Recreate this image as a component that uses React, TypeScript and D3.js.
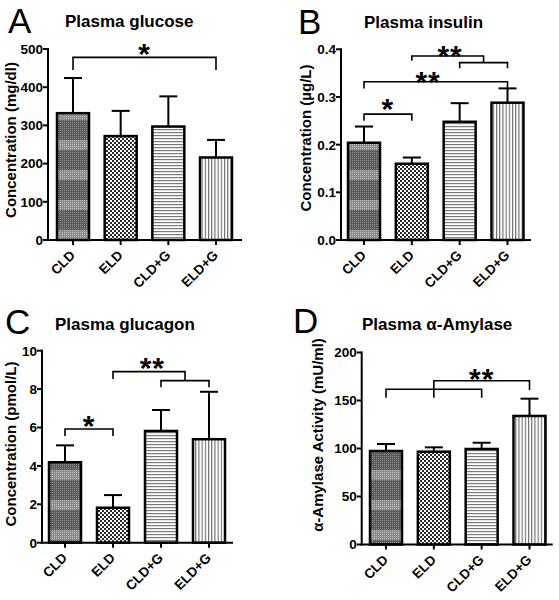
import React from "react";
import * as d3 from "d3";

const categories = ["CLD", "ELD", "CLD+G", "ELD+G"];

const glucoseMean = [332, 272, 297, 216];
const glucoseErr = [92, 66, 79, 46];
const glucoseTicks = [0, 100, 200, 300, 400, 500];

const insulinMean = [0.204, 0.16, 0.248, 0.288];
const insulinErr = [0.034, 0.013, 0.039, 0.03];
const insulinTicks = [0, 0.1, 0.2, 0.3, 0.4];

const glucagonMean = [4.19, 1.82, 5.82, 5.39];
const glucagonErr = [0.88, 0.66, 1.09, 2.47];
const glucagonTicks = [0, 2, 4, 6, 8, 10];

const amylaseMean = [97.4, 96.7, 99.5, 133.9];
const amylaseErr = [7.3, 4.5, 6.5, 18.0];
const amylaseTicks = [0, 50, 100, 150, 200];

// significance brackets: polylines in (category index, value)
const glucoseBrackets = [[[0, 445], [0, 478], [3, 478], [3, 445]]];
const glucoseStars = [{ i: 1.5, v: 505, t: "*" }];

const insulinBrackets = [
  [[0, 0.25], [0, 0.264], [1, 0.264], [1, 0.25]],
  [[0, 0.318], [0, 0.332], [3, 0.332], [3, 0.318]],
  [[2, 0.36], [2, 0.372], [3, 0.372], [3, 0.36]],
  [[1, 0.376], [1, 0.386], [2.5, 0.386], [2.5, 0.372]],
];
const insulinStars = [
  { i: 0.5, v: 0.289, t: "*" },
  { i: 1.34, v: 0.346, t: "**" },
  { i: 1.8, v: 0.4, t: "**" },
];

const glucagonBrackets = [
  [[0, 5.56], [0, 5.92], [1, 5.92], [1, 5.56]],
  [[1, 8.53], [1, 8.91], [2.5, 8.91], [2.5, 8.44]],
  [[2, 8.09], [2, 8.44], [3, 8.44], [3, 8.09]],
];
const glucagonStars = [
  { i: 0.5, v: 6.43, t: "*" },
  { i: 1.82, v: 9.45, t: "**" },
];

const amylaseBrackets = [
  [[0, 152.9], [0, 161.7], [2, 161.7], [2, 152.9]],
  [[1, 152.9], [1, 170.6], [3, 170.6], [3, 160.9]],
];
const amylaseStars = [{ i: 2, v: 180, t: "**" }];

const FONT = "'Liberation Sans', Arial, Helvetica, sans-serif";
const patterns = ["pCLD", "pELD", "pCLDG", "pELDG"];

type Cfg = {
  letter: string;
  letterX: number;
  letterY: number;
  title: string;
  titleX: number;
  titleY: number;
  ylabel: string;
  ylabelX: number;
  ylabelY: number;
  axisX: number;
  axisRight: number;
  y0: number;
  yTop: number;
  c0: number;
  c3: number;
  mean: number[];
  err: number[];
  ticks: number[];
  fmt: (v: number) => string;
  brackets: number[][][];
  stars: { i: number; v: number; t: string }[];
};

function Panel({ cfg }: { cfg: Cfg }) {
  const yMax = cfg.ticks[cfg.ticks.length - 1];
  const y = d3.scaleLinear().domain([0, yMax]).range([cfg.y0, cfg.yTop]);
  const x = d3.scalePoint<string>().domain(categories).range([cfg.c0, cfg.c3]);
  const step = x.step();
  const xi = (i: number) => cfg.c0 + i * step;
  const barW = 32;
  const capW = 18;
  const line = d3
    .line<number[]>()
    .x((d) => xi(d[0]))
    .y((d) => y(d[1]));
  return (
    <g>
      <text x={cfg.letterX} y={cfg.letterY} fontSize={35} fontFamily={FONT}>
        {cfg.letter}
      </text>
      <text x={cfg.titleX} y={cfg.titleY} fontSize={17} fontWeight="bold" fontFamily={FONT}>
        {cfg.title}
      </text>
      <text
        transform={`translate(${cfg.ylabelX},${cfg.ylabelY}) rotate(-90)`}
        textAnchor="middle"
        dy="0.35em"
        fontSize={15}
        fontWeight="bold"
        fontFamily={FONT}
      >
        {cfg.ylabel}
      </text>
      {/* bars */}
      {categories.map((c, i) => {
        const cx = x(c)!;
        const top = y(cfg.mean[i]);
        const et = y(cfg.mean[i] + cfg.err[i]);
        return (
          <g key={c}>
            <line x1={cx} x2={cx} y1={top} y2={et} stroke="#000" strokeWidth={2} />
            <line x1={cx - capW / 2} x2={cx + capW / 2} y1={et} y2={et} stroke="#000" strokeWidth={2} />
            <rect
              x={cx - barW / 2}
              y={top}
              width={barW}
              height={cfg.y0 - top}
              fill={`url(#${patterns[i]})`}
              stroke="#000"
              strokeWidth={2.5}
            />
          </g>
        );
      })}
      {/* axes */}
      <line x1={cfg.axisX} x2={cfg.axisX} y1={cfg.yTop - 1} y2={cfg.y0 + 1} stroke="#000" strokeWidth={2} />
      <line x1={cfg.axisX - 1} x2={cfg.axisRight} y1={cfg.y0} y2={cfg.y0} stroke="#000" strokeWidth={2} />
      {cfg.ticks.map((t) => (
        <g key={t}>
          <line x1={cfg.axisX - 5} x2={cfg.axisX} y1={y(t)} y2={y(t)} stroke="#000" strokeWidth={2} />
          <text
            x={cfg.axisX - 5}
            y={y(t)}
            dy="0.36em"
            textAnchor="end"
            fontSize={13.5}
            fontWeight="bold"
            fontFamily={FONT}
          >
            {cfg.fmt(t)}
          </text>
        </g>
      ))}
      {categories.map((c) => (
        <g key={c}>
          <line x1={x(c)} x2={x(c)} y1={cfg.y0} y2={cfg.y0 + 5} stroke="#000" strokeWidth={2} />
          <text
            transform={`translate(${x(c)! + 3},${cfg.y0 + 16}) rotate(-45)`}
            textAnchor="end"
            fontSize={13.5}
            fontWeight="bold"
            fontFamily={FONT}
          >
            {c}
          </text>
        </g>
      ))}
      {cfg.brackets.map((b, k) => (
        <path key={k} d={line(b) || ""} fill="none" stroke="#000" strokeWidth={1.6} />
      ))}
      {cfg.stars.map((s, k) => (
        <text
          key={k}
          x={xi(s.i)}
          y={y(s.v) + 17}
          textAnchor="middle"
          fontSize={30}
          fontWeight="bold"
          letterSpacing={1}
          fontFamily={FONT}
        >
          {s.t}
        </text>
      ))}
    </g>
  );
}

const fmtInt = (v: number) => d3.format("d")(v);
const fmt1 = (v: number) => d3.format(".1f")(v);

const panels: Cfg[] = [
  {
    letter: "A", letterX: 8, letterY: 33,
    title: "Plasma glucose", titleX: 65, titleY: 27,
    ylabel: "Concentration (mg/dl)", ylabelX: 11, ylabelY: 140,
    axisX: 48, axisRight: 242, y0: 240, yTop: 49, c0: 73, c3: 216,
    mean: glucoseMean, err: glucoseErr, ticks: glucoseTicks, fmt: fmtInt,
    brackets: glucoseBrackets, stars: glucoseStars,
  },
  {
    letter: "B", letterX: 298, letterY: 34,
    title: "Plasma insulin", titleX: 364, titleY: 28,
    ylabel: "Concentration (\u00b5g/L)", ylabelX: 306, ylabelY: 138,
    axisX: 341, axisRight: 531, y0: 240, yTop: 49.3, c0: 364, c3: 507.5,
    mean: insulinMean, err: insulinErr, ticks: insulinTicks, fmt: fmt1,
    brackets: insulinBrackets, stars: insulinStars,
  },
  {
    letter: "C", letterX: 5, letterY: 334,
    title: "Plasma glucagon", titleX: 55, titleY: 330,
    ylabel: "Concentration (pmol/L)", ylabelX: 11, ylabelY: 444,
    axisX: 42, axisRight: 233, y0: 542.7, yTop: 350.7, c0: 65, c3: 209,
    mean: glucagonMean, err: glucagonErr, ticks: glucagonTicks, fmt: fmtInt,
    brackets: glucagonBrackets, stars: glucagonStars,
  },
  {
    letter: "D", letterX: 293, letterY: 333,
    title: "Plasma \u03b1-Amylase", titleX: 362, titleY: 330,
    ylabel: "\u03b1-Amylase Activity (mU/ml)", ylabelX: 318, ylabelY: 435,
    axisX: 361.7, axisRight: 552.7, y0: 544.5, yTop: 352.5, c0: 386, c3: 529.5,
    mean: amylaseMean, err: amylaseErr, ticks: amylaseTicks, fmt: fmtInt,
    brackets: amylaseBrackets, stars: amylaseStars,
  },
];

export default function App() {
  return (
    <svg
      width={559}
      height={600}
      style={{ position: "absolute", left: 0, top: 0, background: "#fff" }}
    >
      <defs>
        <pattern id="pCLD" patternUnits="userSpaceOnUse" width={4} height={30}>
          <rect width={4} height={30} fill="#8a8a8a" />
          <rect x={0} y={0} width={4} height={20} fill="#5a5a5a" />
          {d3.range(0, 30, 2).map((r) =>
            [0, 2].map((c) => (
              <rect
                key={`${r}-${c}`}
                x={(c + r) % 4}
                y={r}
                width={1}
                height={1}
                fill={r < 20 ? "#8e8e8e" : "#c0c0c0"}
              />
            ))
          )}
        </pattern>
        <pattern id="pELD" patternUnits="userSpaceOnUse" width={4} height={4}>
          <rect width={4} height={4} fill="#fff" />
          <rect x={0} y={0} width={2} height={2} fill="#2a2a2a" />
          <rect x={2} y={2} width={2} height={2} fill="#2a2a2a" />
        </pattern>
        <pattern id="pCLDG" patternUnits="userSpaceOnUse" width={4} height={3}>
          <rect width={4} height={3} fill="#fff" />
          <rect x={0} y={0} width={4} height={1.2} fill="#7a7a7a" />
        </pattern>
        <pattern id="pELDG" patternUnits="userSpaceOnUse" width={3.2} height={4}>
          <rect width={3.2} height={4} fill="#fff" />
          <rect x={0} y={0} width={1.1} height={4} fill="#6a6a6a" />
        </pattern>
      </defs>
      <rect width={559} height={600} fill="#fff" />
      {panels.map((p) => (
        <Panel key={p.letter} cfg={p} />
      ))}
    </svg>
  );
}
